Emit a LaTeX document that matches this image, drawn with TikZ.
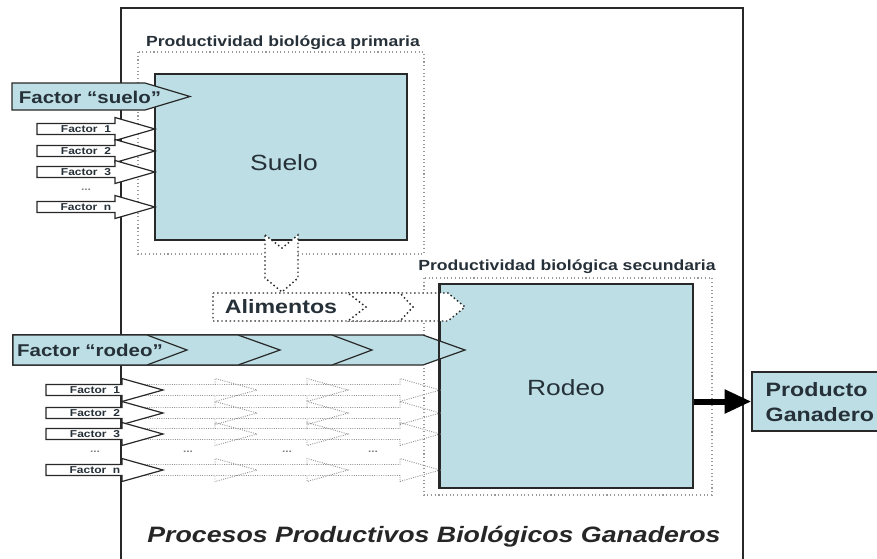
\documentclass[tikz,border=0pt]{standalone}
\usepackage{fontspec}
\setmainfont[FakeStretch=1.2]{Liberation Sans}
\usetikzlibrary{arrows.meta}
\definecolor{celeste}{RGB}{188,222,228}
\definecolor{tinta}{RGB}{38,48,56}
\definecolor{trazo}{RGB}{40,40,40}

\begin{document}
\begin{tikzpicture}[x=0.75pt,y=-0.75pt,
    caja/.style={draw=trazo,line width=1.3pt,fill=celeste,inner sep=0pt},
    flecha/.style={draw=trazo,line width=0.9pt,line join=miter},
    marco/.style={draw=gray!80,dotted,line width=0.8pt},
    guia/.style={draw=gray!85,densely dotted,line width=0.7pt},
    flujo/.style={draw=trazo,dotted,line width=1.1pt,fill=white},
    chico/.style={font=\bfseries\fontsize{7.5}{8}\selectfont,text=tinta,inner sep=0pt},
    medio/.style={font=\bfseries\fontsize{12.8}{14}\selectfont,text=tinta,inner sep=0pt},
    rotulo/.style={font=\bfseries\fontsize{11}{13}\selectfont,text=tinta,inner sep=0pt},
    grande/.style={font=\fontsize{16.5}{19}\selectfont,text=tinta,inner sep=0pt}]
  \useasboundingbox (0,0) rectangle (877,558);

  % marco general
  \draw [trazo,line width=0.8pt] (121,570) -- (121,8) -- (743,8) -- (743,570);

  % productividad primaria
  \draw [marco] (138,52) rectangle (424,254);
  \node [rotulo] (primaria) at (283,43) {Productividad biológica primaria};
  \node [caja,minimum width=189pt,minimum height=124.5pt] (suelo) at (281,157) {};
  \node [grande] (suelotxt) at (284,163) {Suelo};

  % alimentos
  \filldraw [flujo] (265,235) -- (282,248) -- (298,235) -- (298,278) -- (282,292) -- (265,278) -- cycle;

  % productividad secundaria
  \draw [marco] (424,278) rectangle (712,495);
  \node [rotulo] (secundaria) at (567,267) {Productividad biológica secundaria};
  \node [caja,minimum width=189.75pt,minimum height=153pt] (rodeo) at (566.5,386) {};
  \node [grande] (rodeotxt) at (566,388) {Rodeo};

  \foreach \a/\h/\t in {348/448/465,348/400/413,213/348/366}
    \filldraw [flujo] (\a,293) -- (\h,293) -- (\t,307) -- (\h,321) -- (\a,321) -- cycle;
  \node [font=\bfseries\fontsize{14.5}{16}\selectfont,text=tinta] (alimentos) at (281,307) {Alimentos};

  % factores del suelo
  \filldraw [flecha,fill=celeste] (12,83) -- (145,83) -- (190,96.5) -- (145,110) -- (12,110) -- cycle;
  \node [medio] (fsuelo) at (90,97) {Factor “suelo”};
  \foreach \c/\n in {129/1,151/2,172/3,207/n}
  {
    \filldraw [flecha,fill=white] (37,\c-5.5) -- (115,\c-5.5) -- (115,\c-11.5) -- (155,\c)
      -- (115,\c+11.5) -- (115,\c+5.5) -- (37,\c+5.5) -- cycle;
    \node [chico] (fs\n) at (86,\c) {Factor~ \n};
  }
  \node [chico,text=gray] (fsdots) at (86,190) {...};

  % factores del rodeo
  \foreach \c in {390,413,434,470}
    \foreach \a/\h/\t in {122/215/257,215/307/348,307/400/440}
      \draw [guia] (\a,\c-5.5) -- (\h,\c-5.5) -- (\h,\c-11.5) -- (\t,\c)
        -- (\h,\c+11.5) -- (\h,\c+5.5) -- (\a,\c+5.5);
  \foreach \c/\n in {390/1,413/2,434/3,470/n}
  {
    \filldraw [flecha,fill=white] (46,\c-5.5) -- (122,\c-5.5) -- (122,\c-11.5) -- (163,\c)
      -- (122,\c+11.5) -- (122,\c+5.5) -- (46,\c+5.5) -- cycle;
    \node [chico] (fr\n) at (95,\c) {Factor~ \n};
  }
  \foreach \x in {95,188,287,373}
    \node [chico,text=gray] at (\x,452) {...};
  \foreach \h/\t in {423/465,332/372,238/280,147/187}
    \filldraw [flecha,fill=celeste] (13,335) -- (\h,335) -- (\t,350) -- (\h,365) -- (13,365) -- cycle;
  \node [medio] (frodeo) at (90,350) {Factor “rodeo”};
  \draw [trazo,line width=1.3pt] (rodeo.north west) -- (rodeo.south west);

  % producto
  \node [caja,line width=1pt,minimum width=96pt,minimum height=44.25pt] (producto) at (816,401.5) {};
  \node [font=\bfseries\fontsize{14.5}{18.5}\selectfont,text=tinta,align=left,anchor=west] (productotxt)
    at (761,402) {Producto\\Ganadero};
  \draw [-{Triangle[length=20pt,width=17pt]},line width=4.5pt,black] (rodeo.east |- producto.west) -- (producto.west);

  \node [font=\bfseries\itshape\fontsize{16.7}{19}\selectfont,text=black!85] (procesos) at (434,537)
    {Procesos Productivos Biológicos Ganaderos};
\end{tikzpicture}
\end{document}
